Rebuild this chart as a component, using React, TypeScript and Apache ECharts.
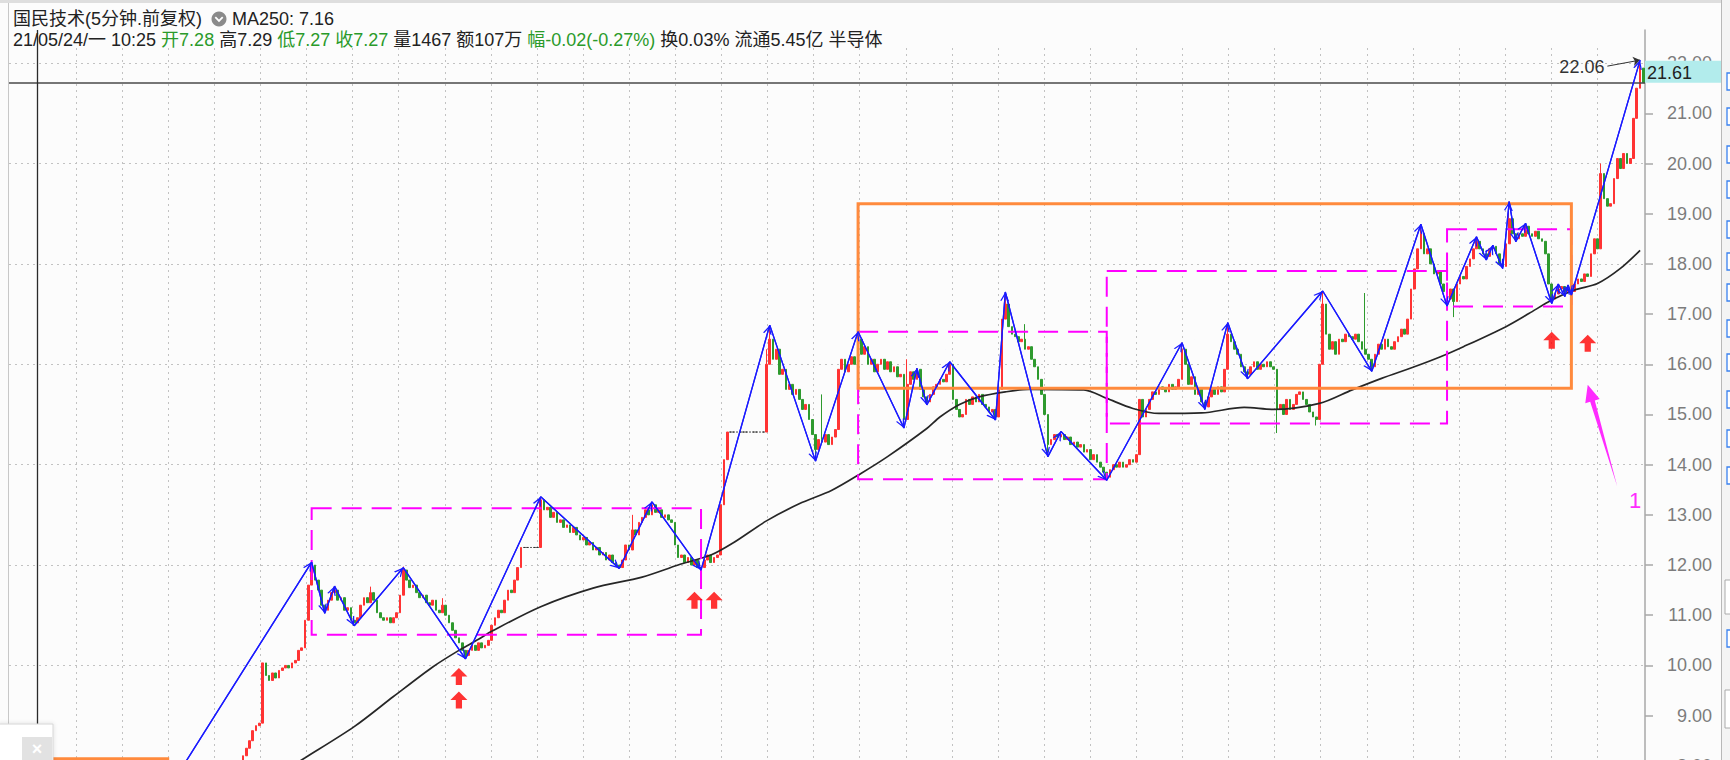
import React, { useEffect, useRef } from 'react';
import * as echarts from 'echarts';

// ---------------- data ----------------
const BAR_COUNT = 500;
const FIRST_INDEX = 65; // first candle with a value (earlier ones lie below the visible range)
const categories = Array.from({ length: BAR_COUNT }, (_, i) => String(i));

// 5-minute closes, index 65 .. 499
const closes = [
  // 65-69
  7.7, 7.8, 7.75, 7.9, 7.95,
  // 70-79
  8.05, 8.2, 8.35, 8.5, 8.7, 8.8, 8.85, 10.05, 9.8, 9.7,
  // 80-89
  9.85, 9.75, 9.9, 9.95, 10.0, 9.95, 10.05, 10.1, 10.3, 10.35,
  // 90-99
  10.9, 11.6, 12.0, 11.7, 11.5, 11.2, 11.1, 11.3, 11.45, 11.5,
  // 100-109
  11.3, 11.35, 11.1, 11.15, 10.9, 10.85, 10.95, 11.2, 11.35, 11.25,
  // 110-119
  11.45, 11.3, 11.05, 10.95, 10.9, 10.95, 10.85, 10.95, 11.05, 11.4,
  // 120-129
  11.9, 11.7, 11.55, 11.6, 11.45, 11.35, 11.4, 11.25, 11.2, 11.3,
  // 130-139
  11.1, 11.05, 11.2, 11.0, 10.85, 10.7, 10.55, 10.45, 10.3, 10.2,
  // 140-149
  10.3, 10.4, 10.3, 10.45, 10.35, 10.4, 10.5, 10.8, 10.95, 11.1,
  // 150-159
  11.05, 11.3, 11.5, 11.45, 11.7, 11.95, 12.35, 12.35, 12.35, 12.35,
  // 160-169
  12.35, 12.35, 13.3, 13.1, 13.15, 12.95, 13.05, 12.85, 12.9, 12.75,
  // 170-179
  12.8, 12.65, 12.75, 12.6, 12.5, 12.55, 12.4, 12.45, 12.3, 12.35,
  // 180-189
  12.2, 12.25, 12.1, 12.2, 12.05, 12.0, 11.95, 12.1, 12.4, 12.3,
  // 190-199
  12.7, 12.6, 12.85, 12.95, 13.1, 13.0, 13.2, 13.05, 13.1, 12.95,
  // 200-209
  13.0, 12.9, 12.85, 12.4, 12.15, 12.2, 12.05, 12.15, 12.0, 12.1,
  // 210-219
  11.95, 11.95, 12.1, 12.2, 12.05, 12.15, 12.2, 13.2, 14.1, 14.65,
  // 220-229
  14.65, 14.65, 14.65, 14.65, 14.65, 14.65, 14.65, 14.65, 14.65, 14.65,
  // 230-239
  14.65, 16.0, 16.5, 16.1, 16.3, 15.8, 15.9, 15.5, 15.6, 15.4,
  // 240-249
  15.5, 15.3, 15.1, 15.2, 14.9, 14.6, 14.3, 14.5, 14.45, 14.6,
  // 250-259
  14.4, 14.55, 14.7, 15.9, 16.1, 15.85, 16.0, 16.15, 16.0, 16.5,
  // 260-269
  16.2, 16.35, 16.0, 16.1, 15.85, 16.0, 16.1, 15.9, 16.05, 15.85,
  // 270-279
  15.95, 15.75, 15.8, 14.9, 15.6, 15.85, 15.7, 15.9, 15.5, 15.35,
  // 280-289
  15.25, 15.4, 15.55, 15.6, 15.7, 15.65, 15.8, 16.0, 15.3, 15.1,
  // 290-299
  14.95, 15.0, 15.3, 15.2, 15.35, 15.25, 15.4, 15.2, 15.15, 15.05,
  // 300-309
  15.1, 14.95, 15.5, 16.9, 17.2, 16.75, 16.6, 16.55, 16.45, 16.5,
  // 310-319
  16.3, 16.35, 16.1, 15.95, 15.7, 15.4, 15.0, 14.4, 14.5, 14.6,
  // 320-329
  14.55, 14.6, 14.5, 14.55, 14.4, 14.45, 14.35, 14.4, 14.25, 14.3,
  // 330-339
  14.1, 14.2, 14.05, 13.95, 13.85, 13.75, 13.9, 14.0, 13.95, 14.05,
  // 340-349
  13.95, 14.0, 14.1, 14.05, 14.2, 15.3, 14.95, 15.1, 15.3, 15.45,
  // 350-359
  15.4, 15.55, 15.5, 15.45, 15.6, 15.5, 15.55, 15.7, 16.3, 16.0,
  // 360-369
  15.6, 15.75, 15.4, 15.5, 15.25, 15.15, 15.35, 15.5, 15.4, 15.55,
  // 370-379
  15.45, 15.9, 16.6, 16.45, 16.3, 16.2, 15.95, 15.85, 15.8, 15.95,
  // 380-389
  16.05, 15.9, 16.0, 15.95, 16.05, 15.95, 15.9, 15.1, 15.2, 15.0,
  // 390-399
  15.3, 15.1, 15.2, 15.4, 15.45, 15.3, 15.2, 15.05, 14.95, 14.9,
  // 400-409
  16.0, 17.2, 16.6, 16.3, 16.45, 16.2, 16.5, 16.45, 16.6, 16.55,
  // 410-419
  16.5, 16.6, 16.45, 16.3, 16.2, 16.1, 15.95, 16.2, 16.4, 16.3,
  // 420-429
  16.5, 16.35, 16.3, 16.45, 16.55, 16.7, 16.6, 16.9, 17.5, 17.9,
  // 430-439
  18.3, 18.6, 18.2, 18.3, 18.0, 17.8, 17.85, 17.6, 17.45, 17.3,
  // 440-449
  17.5, 17.25, 17.6, 17.75, 17.7, 17.95, 18.1, 18.3, 18.45, 18.3,
  // 450-459
  18.2, 18.15, 18.3, 18.35, 18.2, 18.0, 17.95, 18.4, 18.9, 18.6,
  // 460-469
  18.5, 18.6, 18.55, 18.75, 18.6, 18.55, 18.65, 18.5, 18.45, 18.2,
  // 470-479
  17.6, 17.3, 17.4, 17.5, 17.55, 17.45, 17.5, 17.45, 17.6, 17.7,
  // 480-489
  17.65, 17.8, 17.75, 18.2, 18.5, 18.3, 19.8, 19.3, 19.15, 19.2,
  // 490-499
  19.7, 20.1, 19.9, 20.2, 20.0, 20.1, 20.9, 21.5, 21.9, 21.61,
];

// upper / lower shadows that reach beyond the body: [index, price]
const wickHighs: [number, number][] = [
  [92, 12.06], [99, 11.58], [110, 11.57], [120, 11.97], [132, 11.34], [162, 13.36], [190, 13.0],
  [196, 13.26], [231, 16.3], [232, 16.78], [248, 15.4], [259, 16.65], [274, 16.1], [277, 15.92],
  [287, 16.05], [304, 17.44], [310, 16.8], [321, 14.66], [358, 16.43], [372, 16.83], [401, 17.46],
  [414, 17.42], [431, 18.79], [448, 18.54], [453, 18.37], [458, 19.24], [463, 18.81], [473, 17.6],
  [476, 17.58], [486, 20.0], [498, 22.06],
];
const wickLows: [number, number][] = [
  [96, 11.04], [105, 10.79], [139, 10.13], [211, 11.9], [246, 14.07], [273, 14.73], [280, 15.19],
  [301, 14.89], [317, 14.16], [335, 13.69], [365, 15.1], [378, 15.71], [387, 14.63], [399, 14.78],
  [416, 15.86], [439, 17.16], [441, 16.94], [451, 18.08], [456, 17.91], [460, 18.44], [471, 17.21],
  [475, 17.35], [477, 17.38],
];

// MA250 line: [index, value]
const ma250: [number, number][] = [
  [75, 7.55], [90, 8.16], [105, 8.78], [117, 9.38], [129, 9.97], [137, 10.3], [143, 10.52],
  [147, 10.68], [162, 11.17], [178, 11.54], [193, 11.76], [204, 12.0], [214, 12.2], [221, 12.45],
  [231, 12.88], [241, 13.22], [251, 13.49], [260, 13.83], [268, 14.16], [280, 14.72], [284, 14.95],
  [290, 15.2], [296, 15.35], [304, 15.45], [311, 15.5], [328, 15.49], [335, 15.32], [343, 15.12],
  [351, 15.02], [364, 15.03], [377, 15.14], [386, 15.1], [400, 15.22], [410, 15.49], [419, 15.72],
  [429, 15.95], [437, 16.15], [444, 16.35], [457, 16.75], [464, 17.01], [471, 17.28], [478, 17.48],
  [485, 17.61], [492, 17.91], [498, 18.27],
];

// blue zig-zag pivots: [index, price]
const zigzag: [number, number][] = [
  [45, 7.2], [92, 12.06], [96, 11.04], [99, 11.58], [105, 10.79], [120, 11.95], [139, 10.13],
  [162, 13.36], [186, 11.93], [196, 13.26], [211, 11.9], [232, 16.78], [246, 14.07], [259, 16.65],
  [273, 14.73], [277, 15.92], [280, 15.19], [287, 16.05], [301, 14.89], [304, 17.44], [317, 14.16],
  [321, 14.66], [335, 13.69], [358, 16.43], [365, 15.1], [372, 16.83], [378, 15.71], [401, 17.46],
  [416, 15.86], [431, 18.79], [439, 17.16], [448, 18.54], [451, 18.08], [453, 18.37], [456, 17.91],
  [458, 19.24], [460, 18.44], [463, 18.81], [471, 17.21], [473, 17.6], [475, 17.35], [476, 17.58],
  [477, 17.38], [498, 22.06],
];

// boxes: [fromIndex, topPrice, toIndex, bottomPrice]
const dashedBoxes: [number, number, number, number][] = [
  [92, 13.13, 211, 10.61],
  [259, 16.65, 335, 13.71],
  [335, 17.86, 439, 14.82],
  [439, 18.69, 477, 17.15],
];
const solidBoxes: [number, number, number, number][] = [
  [259, 19.2, 477, 15.52],
  [0, 8.14, 48, 6.0],
];

// red buy arrows: [index, price]
const buyArrows: [number, number][] = [
  [137, 9.78], [137, 9.31], [209, 11.3], [215, 11.3], [471, 16.48], [482, 16.42],
];

// magenta pointer: [tailIndex, tailPrice, tipIndex, tipPrice]
const pointer: [number, number, number, number][] = [[491, 13.57, 482, 15.59]];
const pointerLabel = '1';

const yTicks = [8, 9, 10, 11, 12, 13, 14, 15, 16, 17, 18, 19, 20, 21, 22];
const lastPrice = 21.61;
const maxMarker = { fromIndex: 488, fromPrice: 21.94, index: 498, price: 22.06, text: '22.06' };
const cursorIndex = 8;

const headerTitle = '国民技术(5分钟.前复权)';
const headerMA = 'MA250: 7.16';
const headerInfo =
  '21/05/24/一 10:25 {g|开7.28} 高7.29 {g|低7.27 收7.27} 量1467 额107万 {g|幅-0.02(-0.27%)} 换0.03% 流通5.45亿 半导体';

// ---------------- styling ----------------
const FONT = '"Liberation Sans", Arial, "Noto Sans CJK SC", sans-serif';
const UP = '#ff3333';
const DOWN = '#2e9a2e';
const BLUE = '#1a1aff';
const MAGENTA = '#ff00ff';
const ORANGE = '#ff8a3d';
const GRID_DOT = { type: [2, 4] as number[], color: '#c2c2c2', width: 1 };
const CHEVRON =
  'path://M5,20L10,10L15,20L13.4,20L10,13.2L6.6,20Z M0,0L0.1,0L0,0.1Z M20,0L19.9,0L20,0.1Z';
const UP_ARROW = 'path://M6,0L12,6.5L8.2,6.5L8.2,13L3.8,13L3.8,6.5L0,6.5Z';

function buildOption() {
  const highMap = new Map(wickHighs);
  const lowMap = new Map(wickLows);
  const candleData = categories.map((_, i) => {
    const k = i - FIRST_INDEX;
    if (k < 0 || k >= closes.length) return ['-', '-', '-', '-'];
    const close = closes[k];
    const open = k > 0 ? closes[k - 1] : close;
    const hi = Math.max(open, close, highMap.has(i) ? (highMap.get(i) as number) : -Infinity);
    const lo = Math.min(open, close, lowMap.has(i) ? (lowMap.get(i) as number) : Infinity);
    return [open, close, lo, hi];
  });

  const zigzagSegments = zigzag.slice(1).map((p, i) => [{ coord: zigzag[i] }, { coord: p }]);

  const boxAreas = [
    ...dashedBoxes.map((b) => [
      {
        coord: [b[0], b[1]],
        itemStyle: { color: 'rgba(0,0,0,0)', borderColor: MAGENTA, borderWidth: 2, borderType: [20, 10] },
      },
      { coord: [b[2], b[3]] },
    ]),
    ...solidBoxes.map((b) => [
      {
        coord: [b[0], b[1]],
        itemStyle: { color: 'rgba(0,0,0,0)', borderColor: ORANGE, borderWidth: 3, borderType: 'solid' },
      },
      { coord: [b[2], b[3]] },
    ]),
  ];

  const toolbarY = [73, 108, 146, 181, 221, 253, 284, 320, 354, 391, 430, 467, 630];

  return {
    animation: false,
    backgroundColor: '#fcfcfc',
    textStyle: { fontFamily: FONT },
    grid: [
      { left: 9, right: 85, top: 30, height: 836.2, outerBoundsMode: 'none', containLabel: false },
      { left: 76, top: 48, width: 1562.8, height: 800, outerBoundsMode: 'none', containLabel: false },
    ],
    xAxis: [
      { type: 'category', gridIndex: 0, data: categories, boundaryGap: true, show: false },
      {
        type: 'value',
        gridIndex: 1,
        min: 0,
        max: 33.9,
        interval: 1,
        axisLine: { show: false },
        axisTick: { show: false },
        axisLabel: { show: false },
        splitLine: { show: true, showMaxLine: false, lineStyle: GRID_DOT },
      },
    ],
    yAxis: [
      {
        type: 'value',
        gridIndex: 0,
        position: 'right',
        min: 6,
        max: 22.66,
        interval: 1,
        axisLine: { show: true, lineStyle: { color: '#a8a8a8', width: 1.5 } },
        axisTick: { show: true, length: 8, customValues: yTicks, lineStyle: { color: '#a8a8a8', width: 1.5 } },
        axisLabel: {
          show: true,
          customValues: yTicks,
          align: 'right',
          margin: 67,
          fontSize: 18,
          fontFamily: FONT,
          color: '#7c7c7c',
          formatter: (v: number) => (Number.isInteger(v) && v >= 8 ? v.toFixed(2) : ''),
        },
        splitLine: { show: false },
      },
      {
        type: 'value',
        gridIndex: 0,
        position: 'left',
        min: 6,
        max: 22.66,
        interval: 2,
        axisLine: { show: false },
        axisTick: { show: false },
        axisLabel: { show: false },
        splitLine: { show: true, showMinLine: false, showMaxLine: false, lineStyle: GRID_DOT },
      },
      { type: 'value', gridIndex: 1, min: 0, max: 1, show: false },
    ],
    series: [
      {
        type: 'candlestick',
        xAxisIndex: 0,
        yAxisIndex: 0,
        data: candleData,
        barWidth: 2.2,
        z: 3,
        itemStyle: {
          color: UP,
          color0: DOWN,
          borderColor: UP,
          borderColor0: DOWN,
          borderColorDoji: '#333333',
          borderWidth: 1,
        },
        markLine: {
          silent: true,
          animation: false,
          symbol: 'none',
          label: { show: false },
          data: [
            {
              yAxis: lastPrice,
              lineStyle: { color: '#4a4a4a', width: 1.6, type: 'solid' },
              label: {
                show: true,
                position: 'end',
                distance: 0,
                formatter: lastPrice.toFixed(2),
                color: '#222',
                fontSize: 18,
                fontFamily: FONT,
                backgroundColor: '#b2ecec',
                padding: [3, 29, 1, 2],
                align: 'left',
                verticalAlign: 'bottom',
              },
            },
            {
              xAxis: cursorIndex,
              lineStyle: { color: '#2a2a2a', width: 1.3, type: 'solid' },
            },
            [
              {
                coord: [maxMarker.fromIndex, maxMarker.fromPrice],
                symbol: 'none',
                lineStyle: { color: '#333', width: 1, type: 'solid' },
                label: {
                  show: true,
                  position: 'start',
                  formatter: maxMarker.text,
                  distance: 3,
                  color: '#333',
                  fontSize: 18,
                  fontFamily: FONT,
                },
              },
              { coord: [maxMarker.index, maxMarker.price], symbol: 'arrow', symbolSize: 7 },
            ],
          ],
        },
      },
      {
        type: 'line',
        name: 'MA250',
        xAxisIndex: 0,
        yAxisIndex: 0,
        data: ma250,
        symbol: 'none',
        smooth: 0.3,
        z: 4,
        lineStyle: { color: '#262626', width: 1.7 },
      },
      {
        type: 'line',
        name: 'boxes',
        xAxisIndex: 0,
        yAxisIndex: 0,
        data: [],
        z: 5,
        markArea: { silent: true, z: 5, data: boxAreas },
      },
      {
        type: 'line',
        name: 'zigzag',
        xAxisIndex: 0,
        yAxisIndex: 0,
        data: zigzag,
        symbol: 'none',
        z: 6,
        lineStyle: { color: BLUE, width: 1.3 },
        markLine: {
          silent: true,
          animation: false,
          symbol: ['none', CHEVRON],
          symbolSize: 18,
          label: { show: false },
          lineStyle: { color: BLUE, width: 1.3, type: 'solid' },
          data: zigzagSegments,
        },
      },
      {
        type: 'scatter',
        xAxisIndex: 0,
        yAxisIndex: 0,
        data: buyArrows,
        symbol: UP_ARROW,
        symbolSize: [17, 17],
        z: 7,
        itemStyle: { color: '#ff0000' },
      },
      {
        type: 'custom',
        xAxisIndex: 0,
        yAxisIndex: 0,
        data: pointer,
        clip: false,
        z: 8,
        renderItem: (params: any, api: any) => {
          const tail = api.coord([api.value(0), api.value(1)]);
          const tip = api.coord([api.value(2), api.value(3)]);
          const dx = tip[0] - tail[0];
          const dy = tip[1] - tail[1];
          const len = Math.hypot(dx, dy) || 1;
          const ux = dx / len;
          const uy = dy / len;
          const nx = -uy;
          const ny = ux;
          const headLen = 17;
          const headHalf = 7.5;
          const shaftHalf = 2.4;
          const bx = tip[0] - ux * headLen;
          const by = tip[1] - uy * headLen;
          const points = [
            tail,
            [bx + nx * shaftHalf, by + ny * shaftHalf],
            [bx + nx * headHalf, by + ny * headHalf],
            tip,
            [bx - nx * headHalf, by - ny * headHalf],
            [bx - nx * shaftHalf, by - ny * shaftHalf],
          ];
          return {
            type: 'group',
            children: [
              { type: 'polygon', shape: { points }, style: { fill: '#ff2bff' } },
              {
                type: 'text',
                x: tail[0] + 18,
                y: tail[1] + 14,
                style: {
                  text: pointerLabel,
                  fill: '#ff2bff',
                  fontSize: 22,
                  fontFamily: FONT,
                  align: 'center',
                  verticalAlign: 'middle',
                },
              },
            ],
          };
        },
      },
    ],
    graphic: [
      // tab strip at the very top
      { type: 'rect', z: 50, shape: { x: 0, y: 0, width: 1730, height: 3 }, style: { fill: '#dedede' } },
      // left border of the chart panel
      { type: 'line', z: 50, shape: { x1: 8.5, y1: 3, x2: 8.5, y2: 760 }, style: { stroke: '#c8c8c8', lineWidth: 1 } },
      // header
      {
        type: 'text',
        z: 50,
        x: 13,
        y: 19,
        style: { text: headerTitle, fill: '#222', fontSize: 18, fontFamily: FONT, verticalAlign: 'middle' },
      },
      { type: 'circle', z: 50, shape: { cx: 219, cy: 19, r: 7.5 }, style: { fill: '#8a8a8a' } },
      {
        type: 'polyline',
        z: 51,
        shape: { points: [[215.3, 17.2], [219, 20.9], [222.7, 17.2]] },
        style: { stroke: '#fff', lineWidth: 1.8, fill: 'none' },
      },
      {
        type: 'text',
        z: 50,
        x: 232,
        y: 19,
        style: { text: headerMA, fill: '#222', fontSize: 18, fontFamily: FONT, verticalAlign: 'middle' },
      },
      {
        type: 'text',
        z: 50,
        x: 13,
        y: 40,
        style: {
          text: headerInfo,
          fill: '#222',
          fontSize: 18,
          fontFamily: FONT,
          verticalAlign: 'middle',
          rich: { g: { fill: '#2a9a2a', fontSize: 18, fontFamily: FONT } },
        },
      },
      // right tool panel
      { type: 'rect', z: 50, shape: { x: 1722, y: 0, width: 8, height: 760 }, style: { fill: '#f4f4f4' } },
      { type: 'line', z: 51, shape: { x1: 1721.5, y1: 0, x2: 1721.5, y2: 760 }, style: { stroke: '#b8b8b8', lineWidth: 1 } },
      ...toolbarY.map((y) => ({
        type: 'rect',
        z: 51,
        shape: { x: 1727, y, width: 10, height: 17 },
        style: { fill: '#ffffff', stroke: '#3b82f0', lineWidth: 1.3 },
      })),
      { type: 'rect', z: 51, shape: { x: 1725, y: 580, width: 12, height: 34 }, style: { fill: '#ffffff', stroke: '#aaaaaa', lineWidth: 1 } },
      { type: 'rect', z: 51, shape: { x: 1725, y: 690, width: 12, height: 38 }, style: { fill: '#ffffff', stroke: '#aaaaaa', lineWidth: 1 } },
      // popup in the lower-left corner
      {
        type: 'rect',
        z: 60,
        shape: { x: -2, y: 724, width: 55, height: 40 },
        style: { fill: '#ffffff', stroke: '#d6d6d6', lineWidth: 1, shadowBlur: 4, shadowColor: 'rgba(0,0,0,0.12)' },
      },
      { type: 'rect', z: 61, shape: { x: 22, y: 737, width: 30, height: 26 }, style: { fill: '#e2e2e2' } },
      {
        type: 'text',
        z: 62,
        x: 37,
        y: 749,
        style: { text: '×', fill: '#ffffff', fontSize: 18, fontFamily: FONT, align: 'center', verticalAlign: 'middle', fontWeight: 'bold' },
      },
    ],
  };
}

export default function App() {
  const ref = useRef<HTMLDivElement>(null);
  useEffect(() => {
    if (!ref.current) return;
    const chart = echarts.init(ref.current, null, { renderer: 'svg' });
    chart.setOption(buildOption() as any);
    return () => chart.dispose();
  }, []);
  return (
    <div
      ref={ref}
      style={{ position: 'fixed', left: 0, top: 0, width: 1730, height: 760, background: '#fcfcfc' }}
    />
  );
}
